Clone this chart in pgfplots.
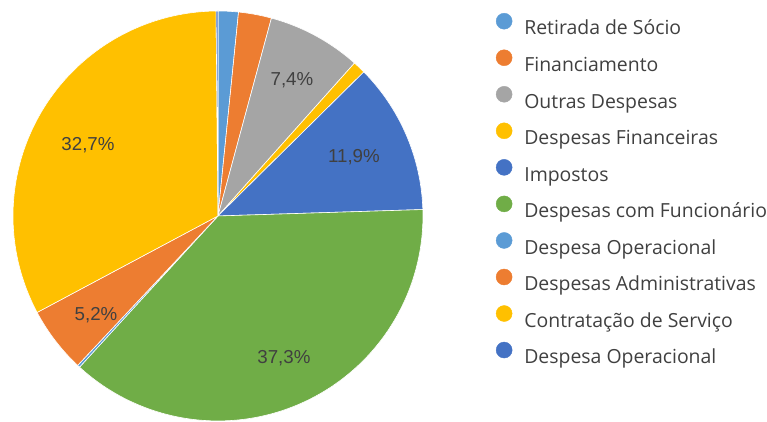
\documentclass[border=0pt]{standalone}
\usepackage{pgfplots}
\pgfplotsset{compat=1.18}
\usepackage{fontspec}
\setmainfont{Open Sans}
\newfontfamily\labfont{Liberation Sans}
\definecolor{c1}{HTML}{5B9BD5}
\definecolor{c2}{HTML}{ED7D31}
\definecolor{c3}{HTML}{A5A5A5}
\definecolor{c4}{HTML}{FFC000}
\definecolor{c5}{HTML}{4472C4}
\definecolor{c6}{HTML}{70AD47}
\definecolor{ctext}{HTML}{404040}
% slice: start percent, end percent, colour
\newcommand\slice[3]{\addplot[forget plot, fill=#3, draw=white, line width=0.6pt,
  domain={90-3.6*(#2)}:{90-3.6*(#1)}, samples=150, variable=\t]
  ({218+205*cos(\t)},{205+205*sin(\t)}) -- (axis cs:218,205) -- cycle;}
\newcommand\legcirc[1]{\addlegendimage{legend image code/.code={\fill[#1] (8bp,7bp) circle (8bp);}}}
\newcommand\legtxt[1]{\addlegendentry{\smash{#1}\rule[-5bp]{0pt}{20bp}}}
\begin{document}
\begin{tikzpicture}
\begin{axis}[
  scale only axis, width=767bp, height=421bp,
  xmin=0, xmax=767, ymin=0, ymax=421,
  hide axis, clip=false,
  legend style={at={(axis cs:496,408)}, anchor=north west, draw=none, fill=none,
    inner sep=0pt, outer sep=0pt,
    font=\fontsize{19.5}{22}\selectfont, text=ctext, row sep=13.1bp, column sep=12bp,
    nodes={inner sep=0pt}},
  legend cell align=left,
]
\legcirc{c1}\legtxt{Retirada de Sócio}
\legcirc{c2}\legtxt{Financiamento}
\legcirc{c3}\legtxt{Outras Despesas}
\legcirc{c4}\legtxt{Despesas Financeiras}
\legcirc{c5}\legtxt{Impostos}
\legcirc{c6}\legtxt{Despesas com Funcionário}
\legcirc{c1}\legtxt{Despesa Operacional}
\legcirc{c2}\legtxt{Despesas Administrativas}
\legcirc{c4}\legtxt{Contratação de Serviço}
\legcirc{c5}\legtxt{Despesa Operacional}
\slice{0}{1.6}{c1}
\slice{1.6}{4.2}{c2}
\slice{4.2}{11.6}{c3}
\slice{11.6}{12.6}{c4}
\slice{12.6}{24.5}{c5}
\slice{24.5}{61.8}{c6}
\slice{61.8}{62.0}{c1}
\slice{62.0}{67.2}{c2}
\slice{67.2}{99.85}{c4}
\slice{99.85}{100}{c5}
\draw[draw=none] (axis cs:0,0) rectangle (axis cs:767,421);
\begin{scope}[every node/.style={font=\labfont\fontsize{18.8}{22}\selectfont, text=ctext}]
\node at (axis cs:292,341) {7,4\%};
\node at (axis cs:354,264) {11,9\%};
\node at (axis cs:284,63) {37,3\%};
\node at (axis cs:96,106) {5,2\%};
\node at (axis cs:88,276) {32,7\%};
\end{scope}
\end{axis}
\end{tikzpicture}
\end{document}
